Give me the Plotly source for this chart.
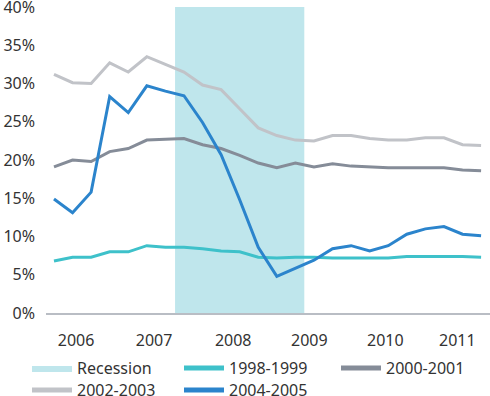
import plotly.graph_objects as go

# Quarterly observations (index positions along the time axis)
quarters = list(range(24))

s_1998_1999 = [6.8, 7.3, 7.3, 8.0, 8.0, 8.8, 8.6, 8.6, 8.4, 8.1, 8.0, 7.3,
               7.2, 7.3, 7.3, 7.2, 7.2, 7.2, 7.2, 7.4, 7.4, 7.4, 7.4, 7.3]
s_2000_2001 = [19.1, 20.0, 19.8, 21.1, 21.5, 22.6, 22.7, 22.8, 22.0, 21.5, 20.6, 19.6,
               19.0, 19.6, 19.1, 19.5, 19.2, 19.1, 19.0, 19.0, 19.0, 19.0, 18.7, 18.6]
s_2002_2003 = [31.2, 30.1, 30.0, 32.7, 31.5, 33.5, 32.5, 31.5, 29.8, 29.2, 26.7, 24.2,
               23.2, 22.6, 22.5, 23.2, 23.2, 22.8, 22.6, 22.6, 22.9, 22.9, 22.0, 21.9]
s_2004_2005 = [14.9, 13.1, 15.8, 28.3, 26.2, 29.7, 29.0, 28.4, 24.9, 20.7, 14.8, 8.6,
               4.8, 5.8, 6.9, 8.4, 8.8, 8.1, 8.8, 10.3, 11.0, 11.3, 10.3, 10.1]

recession_span = [6.52, 13.48]
y_top = 40

tick_labels = ["2006", "2007", "2008", "2009", "2010", "2011"]
tick_pos = [1.19, 5.39, 9.65, 13.75, 17.84, 21.72]

y_ticks = [0, 5, 10, 15, 20, 25, 30, 35, 40]
y_tick_text = [f"{v}%" for v in y_ticks]

FONT = "Noto Sans"
TXT = "#333333"

fig = go.Figure()

fig.add_trace(go.Scatter(
    x=[recession_span[0], recession_span[1], recession_span[1], recession_span[0], recession_span[0]],
    y=[0, 0, y_top, y_top, 0],
    mode="lines", fill="toself", fillcolor="#bfe6ec",
    line=dict(width=0, color="#bfe6ec"),
    name="Recession", hoverinfo="skip", legend="legend"))

series = [
    ("1998-1999", s_1998_1999, "#3ec1ca", "legend2"),
    ("2000-2001", s_2000_2001, "#858c98", "legend3"),
    ("2002-2003", s_2002_2003, "#c1c3c8", "legend4"),
    ("2004-2005", s_2004_2005, "#2b84cc", "legend5"),
]
for name, vals, col, lg in series:
    fig.add_trace(go.Scatter(x=quarters, y=vals, mode="lines", name=name,
                             line=dict(color=col, width=3), legend=lg))

leg_common = dict(orientation="v", xref="container", yref="container",
                  xanchor="left", yanchor="top",
                  font=dict(size=16, color=TXT, family=FONT),
                  bgcolor="rgba(0,0,0,0)", itemsizing="constant",
                  itemwidth=40, tracegroupgap=0)
row1 = 1 - 351 / 396
row2 = 1 - 373 / 396

fig.update_layout(
    width=490, height=396,
    margin=dict(l=46, r=0, t=7, b=83, autoexpand=False),
    plot_bgcolor="white", paper_bgcolor="white",
    font=dict(family=FONT, size=16, color=TXT),
    showlegend=True,
    legend=dict(leg_common, x=27 / 490, y=row1),
    legend2=dict(leg_common, x=179 / 490, y=row1),
    legend3=dict(leg_common, x=336 / 490, y=row1),
    legend4=dict(leg_common, x=27 / 490, y=row2),
    legend5=dict(leg_common, x=179 / 490, y=row2),
    xaxis=dict(range=[-0.43, 23.48], tickvals=tick_pos, ticktext=tick_labels,
               showgrid=False, zeroline=False, showline=True, linecolor="#b9bdc4",
               linewidth=2, ticks="", ticklabelstandoff=12),
    yaxis=dict(range=[0, 40], tickvals=y_ticks, ticktext=y_tick_text,
               showgrid=False, zeroline=False, showline=False,
               ticks="", ticklabelstandoff=10, automargin=False,
               ticklabeloverflow="allow"),
)

fig.write_html("out.html", config={"displayModeBar": False},
               post_script="document.body.style.margin='0';document.body.style.overflow='hidden';")
